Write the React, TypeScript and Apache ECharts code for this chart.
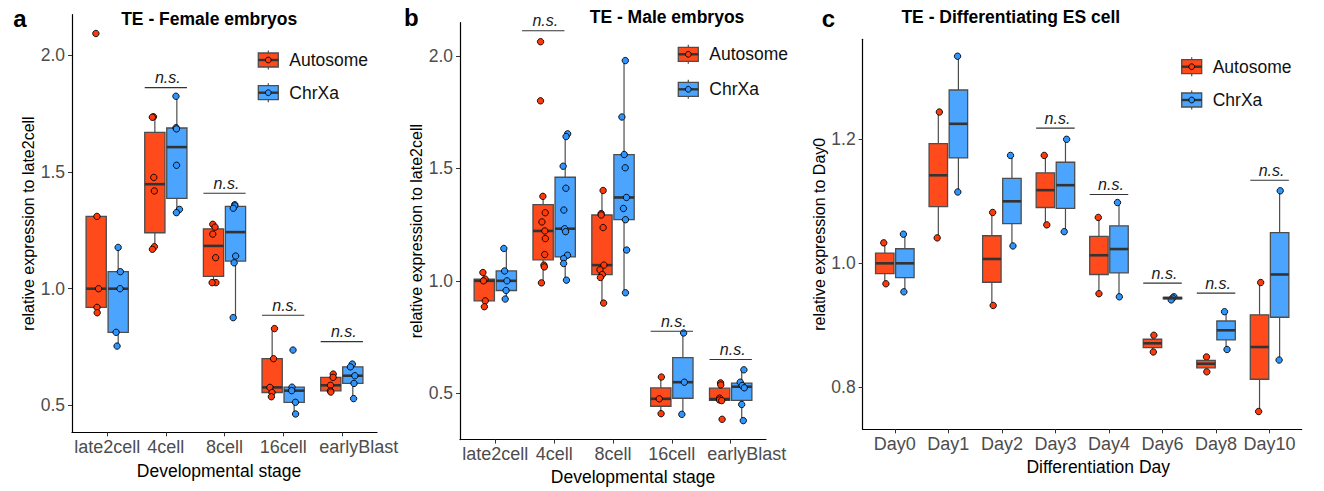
import React, { useEffect, useRef } from 'react';
import * as echarts from 'echarts';

// ---------- data ----------
const embryoStages = ['late2cell', '4cell', '8cell', '16cell', 'earlyBlast'];
const esDays = ['Day0', 'Day1', 'Day2', 'Day3', 'Day4', 'Day6', 'Day8', 'Day10'];
const groupNames = ['Autosome', 'ChrXa'];

// TE - Female embryos (per stage, replicate values)
const femaleAutosome = [
  [2.094, 1.31, 1.0, 0.92, 0.897],
  [1.737, 1.735, 1.477, 1.419, 1.18, 1.169],
  [1.276, 1.264, 1.234, 1.133, 1.026, 1.026],
  [0.829, 0.7, 0.577, 0.555, 0.537],
  [0.634, 0.62, 0.586, 0.562, 0.557],
];
const femaleChrXa = [
  [1.177, 1.073, 1.0, 0.813, 0.754],
  [1.825, 1.69, 1.685, 1.529, 1.34, 1.326],
  [1.36, 1.355, 1.345, 1.14, 1.111, 0.876],
  [0.737, 0.578, 0.563, 0.513, 0.463],
  [0.677, 0.665, 0.627, 0.594, 0.529],
];

// TE - Male embryos
const maleAutosome = [
  [1.037, 1.008, 1.0, 0.911, 0.885],
  [2.064, 1.801, 1.376, 1.303, 1.262, 1.222, 1.188, 1.117, 1.07, 1.062, 0.991],
  [1.402, 1.299, 1.293, 1.237, 1.07, 1.049, 1.028, 1.015, 0.901],
  [0.572, 0.475, 0.409],
  [0.546, 0.537, 0.478, 0.47, 0.467, 0.384],
];
const maleChrXa = [
  [1.144, 1.044, 1.0, 0.957, 0.919],
  [1.654, 1.642, 1.51, 1.412, 1.315, 1.232, 1.219, 1.114, 1.099, 1.077, 1.003],
  [1.98, 1.729, 1.562, 1.503, 1.371, 1.322, 1.272, 1.137, 0.947],
  [0.768, 0.549, 0.406],
  [0.604, 0.549, 0.534, 0.524, 0.45, 0.378],
];

// TE - Differentiating ES cell
const esAutosome = [
  [1.033, 1.0, 0.967],
  [1.244, 1.142, 1.041],
  [1.082, 1.007, 0.932],
  [1.174, 1.118, 1.062],
  [1.074, 1.013, 0.951],
  [0.884, 0.871, 0.857],
  [0.849, 0.838, 0.825],
  [0.969, 0.865, 0.761],
];
const esChrXa = [
  [1.047, 1.0, 0.954],
  [1.334, 1.225, 1.115],
  [1.174, 1.1, 1.028],
  [1.2, 1.126, 1.051],
  [1.098, 1.023, 0.946],
  [0.946, 0.944, 0.941],
  [0.922, 0.892, 0.861],
  [1.117, 0.982, 0.844],
];

const embryoTicks = [0.5, 1.0, 1.5, 2.0];
const esTicks = [0.8, 1.0, 1.2];

// n.s. annotations: [x position (category units), y value]
const nsFemale = [[1, 1.862], [2, 1.409], [3, 0.886], [4, 0.773]];
const nsMale = [[0.815, 2.113], [3, 0.776], [4, 0.65]];
const nsES = [[3, 1.218], [4, 1.111], [5, 0.968], [6, 0.952], [7, 1.134]];

// ---------- styles ----------
const FONT = "'Liberation Sans', Arial, Helvetica, sans-serif";
const BOX_FILL = ['#FF4A1C', '#4BA5FF'];
const POINT_FILL = ['#FF3A0A', '#2E95FF'];
const DODGE = [-0.1875, 0.1875];
const BOX_WIDTH = 0.345;
const NS_HALF = 0.36;
const EDGE = '#4d4d4d';

function quantile(s: number[], p: number) {
  const h = (s.length - 1) * p;
  const lo = Math.floor(h);
  const hi = Math.ceil(h);
  return s[lo] + (h - lo) * (s[hi] - s[lo]);
}
function boxStats(vals: number[]) {
  const s = [...vals].sort((a, b) => a - b);
  const q1 = quantile(s, 0.25);
  const md = quantile(s, 0.5);
  const q3 = quantile(s, 0.75);
  const iqr = q3 - q1;
  const lo = Math.min(...s.filter((v) => v >= q1 - 1.5 * iqr));
  const hi = Math.max(...s.filter((v) => v <= q3 + 1.5 * iqr));
  return [lo, q1, md, q3, hi];
}
function jit(i: number, j: number, k: number) {
  const h = Math.sin((i + 1) * 12.9898 + (j + 1) * 78.233 + (k + 1) * 37.719) * 43758.5453;
  return h - Math.floor(h) - 0.5;
}

const panels = [
  {
    cats: embryoStages, data: [femaleAutosome, femaleChrXa], ns: nsFemale, ticks: embryoTicks,
    grid: { left: 72, top: 14.7, width: 305, height: 417.6 }, yMin: 0.3845, yMax: 2.1745,
    yName: 'relative expression to late2cell', xName: 'Developmental stage',
    xNameGap: 29.5, xNamePad: [0, 11, 0, 0], pointsOnTop: true, jitter: 0.09, labelShift: { 4: 34 },
  },
  {
    cats: embryoStages, data: [maleAutosome, maleChrXa], ns: nsMale, ticks: embryoTicks,
    grid: { left: 460, top: 22.7, width: 306, height: 418.3 }, yMin: 0.2936, yMax: 2.1486,
    yName: 'relative expression to late2cell', xName: 'Developmental stage',
    xNameGap: 25.5, xNamePad: [0, 0, 0, 40], pointsOnTop: true, jitter: 0.09, labelShift: { 4: 32 },
  },
  {
    cats: esDays, data: [esAutosome, esChrXa], ns: nsES, ticks: esTicks,
    grid: { left: 862.7, top: 39.3, width: 439, height: 390 }, yMin: 0.7323, yMax: 1.3613,
    yName: 'relative expression to Day0', xName: 'Differentiation Day',
    xNameGap: 29, xNamePad: [0, 0, 0, 32], pointsOnTop: false, jitter: 0.06, labelShift: {},
  },
];

const legendSpecs = [
  { x: 258.3, ys: [60, 92.7] },
  { x: 678.3, ys: [54.3, 89.3] },
  { x: 1181.7, ys: [66.7, 100] },
];
const titleSpecs = [
  { letter: 'a', lx: 13.3, ly: 18.3, title: 'TE - Female embryos', tx: 209.2, ty: 18.8 },
  { letter: 'b', lx: 404, ly: 17.6, title: 'TE - Male embryos', tx: 667, ty: 16.6 },
  { letter: 'c', lx: 821.7, ly: 18.3, title: 'TE - Differentiating ES cell', tx: 1010.8, ty: 17.2 },
];

function makeBoxSeries(pi: number, g: number, p: any, part: 'all' | 'whisker' | 'box', z: number) {
  return {
    type: 'custom',
    xAxisIndex: pi,
    yAxisIndex: pi,
    z,
    silent: true,
    encode: { x: 0, y: [1, 2, 3, 4, 5] },
    data: p.data[g].map((vals: number[], k: number) => [k + DODGE[g], ...boxStats(vals)]),
    renderItem: (params: any, api: any) => {
      const x = api.value(0);
      const c = (v: number) => api.coord([x, v]);
      const lo = c(api.value(1));
      const q1 = c(api.value(2));
      const md = c(api.value(3));
      const q3 = c(api.value(4));
      const hi = c(api.value(5));
      const hw = api.size([BOX_WIDTH, 0])[0] / 2;
      const cx = lo[0];
      const children: any[] = [];
      if (part !== 'box') {
        children.push(
          { type: 'line', shape: { x1: cx, y1: q1[1], x2: cx, y2: lo[1] }, style: { stroke: EDGE, lineWidth: 1.2 } },
          { type: 'line', shape: { x1: cx, y1: q3[1], x2: cx, y2: hi[1] }, style: { stroke: EDGE, lineWidth: 1.2 } },
        );
      }
      if (part !== 'whisker') {
        children.push(
          { type: 'rect', shape: { x: cx - hw, y: q3[1], width: 2 * hw, height: Math.max(q1[1] - q3[1], 0.5) },
            style: { fill: BOX_FILL[g], stroke: EDGE, lineWidth: 1.3 } },
          { type: 'line', shape: { x1: cx - hw, y1: md[1], x2: cx + hw, y2: md[1] }, style: { stroke: '#333', lineWidth: 2.6 } },
        );
      }
      return { type: 'group', children };
    },
  };
}

function makePointSeries(pi: number, g: number, p: any, z: number) {
  const pts: number[][] = [];
  p.data[g].forEach((vals: number[], k: number) => {
    vals.forEach((v, i) => {
      pts.push([k + DODGE[g] + jit(i, k, g + pi * 2) * p.jitter, v]);
    });
  });
  return {
    type: 'scatter',
    xAxisIndex: pi,
    yAxisIndex: pi,
    z,
    silent: true,
    symbol: 'circle',
    symbolSize: 6.4,
    itemStyle: { color: POINT_FILL[g], borderColor: '#000', borderWidth: 0.9, opacity: 1 },
    data: pts,
  };
}

function makeNsSeries(pi: number, p: any) {
  return {
    type: 'custom',
    xAxisIndex: pi,
    yAxisIndex: pi,
    z: 5,
    silent: true,
    encode: { x: 0, y: 1 },
    data: p.ns,
    renderItem: (params: any, api: any) => {
      const x = api.value(0);
      const y = api.value(1);
      const a = api.coord([x - NS_HALF, y]);
      const b = api.coord([x + NS_HALF, y]);
      return {
        type: 'group',
        children: [
          { type: 'line', shape: { x1: a[0], y1: a[1], x2: b[0], y2: b[1] }, style: { stroke: '#333', lineWidth: 1.1 } },
          { type: 'text', x: (a[0] + b[0]) / 2 + 2, y: a[1] - 2,
            style: { text: 'n.s.', fontSize: 16, fontStyle: 'italic', fontFamily: FONT, fill: '#1a1a1a', align: 'center', verticalAlign: 'bottom' } },
        ],
      };
    },
  };
}

function buildOption() {
  const series: any[] = [];
  panels.forEach((p, pi) => {
    [0, 1].forEach((g) => {
      if (p.pointsOnTop) {
        series.push(makeBoxSeries(pi, g, p, 'all', 2));
        series.push(makePointSeries(pi, g, p, 3));
      } else {
        series.push(makeBoxSeries(pi, g, p, 'whisker', 1));
        series.push(makePointSeries(pi, g, p, 2));
        series.push(makeBoxSeries(pi, g, p, 'box', 3));
      }
    });
    series.push(makeNsSeries(pi, p));
  });

  const graphic: any[] = [];
  titleSpecs.forEach((t) => {
    graphic.push({ type: 'text', x: t.lx, y: t.ly, style: { text: t.letter, fontSize: 24, fontWeight: 'bold', fontFamily: FONT, fill: '#000', align: 'left', verticalAlign: 'middle' } });
    graphic.push({ type: 'text', x: t.tx, y: t.ty, style: { text: t.title, fontSize: 17.5, fontWeight: 'bold', fontFamily: FONT, fill: '#000', align: 'center', verticalAlign: 'middle' } });
  });
  legendSpecs.forEach((l) => {
    l.ys.forEach((y, g) => {
      const cx = l.x + 10;
      graphic.push({ type: 'line', shape: { x1: cx, y1: y - 9.5, x2: cx, y2: y + 9.5 }, style: { stroke: EDGE, lineWidth: 1.2 } });
      graphic.push({ type: 'rect', shape: { x: l.x, y: y - 7, width: 20, height: 14 }, style: { fill: BOX_FILL[g], stroke: EDGE, lineWidth: 1.3 } });
      graphic.push({ type: 'line', shape: { x1: l.x, y1: y, x2: l.x + 20, y2: y }, style: { stroke: '#333', lineWidth: 2.4 } });
      graphic.push({ type: 'circle', shape: { cx, cy: y, r: 2.9 }, style: { fill: POINT_FILL[g], stroke: '#000', lineWidth: 0.9 } });
      graphic.push({ type: 'text', x: l.x + 31, y, style: { text: groupNames[g], fontSize: 17.5, fontFamily: FONT, fill: '#111', align: 'left', verticalAlign: 'middle' } });
    });
  });

  return {
    animation: false,
    backgroundColor: '#ffffff',
    grid: panels.map((p) => ({ ...p.grid, containLabel: false })),
    xAxis: panels.map((p, pi) => {
      const idx = p.cats.map((_: string, k: number) => k);
      const shift: any = p.labelShift;
      return {
        type: 'value',
        gridIndex: pi,
        min: -0.6,
        max: p.cats.length - 0.4,
        splitLine: { show: false },
        axisLine: { show: true, onZero: false, lineStyle: { color: '#000', width: 1.2 } },
        axisTick: { show: true, customValues: idx, length: 4, lineStyle: { color: '#333', width: 1 } },
        axisLabel: {
          customValues: idx,
          margin: 5.5,
          color: '#4d4d4d',
          fontSize: 18,
          fontFamily: FONT,
          formatter: (v: number) => {
            const k = Math.round(v);
            const name = p.cats[k] ?? '';
            return shift[k] ? `{s${k}|${name}}` : name;
          },
          rich: Object.fromEntries(
            Object.keys(shift).map((k) => [
              `s${k}`,
              { padding: [0, 0, 0, shift[k]], fontSize: 18, color: '#4d4d4d', fontFamily: FONT },
            ]),
          ),
        },
        name: p.xName,
        nameLocation: 'middle',
        nameGap: p.xNameGap,
        nameTextStyle: { fontSize: 17.5, color: '#000', fontFamily: FONT, padding: p.xNamePad },
      };
    }),
    yAxis: panels.map((p, pi) => ({
      type: 'value',
      gridIndex: pi,
      min: p.yMin,
      max: p.yMax,
      splitLine: { show: false },
      axisLine: { show: true, onZero: false, lineStyle: { color: '#000', width: 1.2 } },
      axisTick: { show: true, customValues: p.ticks, length: 4, lineStyle: { color: '#333', width: 1 } },
      axisLabel: {
        customValues: p.ticks,
        margin: 7,
        color: '#4d4d4d',
        fontSize: 17.5,
        fontFamily: FONT,
        formatter: (v: number) => v.toFixed(1),
      },
      name: p.yName,
      nameLocation: 'middle',
      nameGap: 33,
      nameTextStyle: { fontSize: 16, color: '#000', fontFamily: FONT },
    })),
    series,
    graphic,
  };
}

export default function App() {
  const ref = useRef<HTMLDivElement>(null);
  useEffect(() => {
    if (!ref.current) return;
    const chart = echarts.init(ref.current, undefined, { renderer: 'svg' });
    chart.setOption(buildOption() as any);
    return () => chart.dispose();
  }, []);
  return (
    <div
      ref={ref}
      style={{ position: 'absolute', left: 0, top: 0, width: 1324, height: 491, background: '#fff' }}
    />
  );
}
